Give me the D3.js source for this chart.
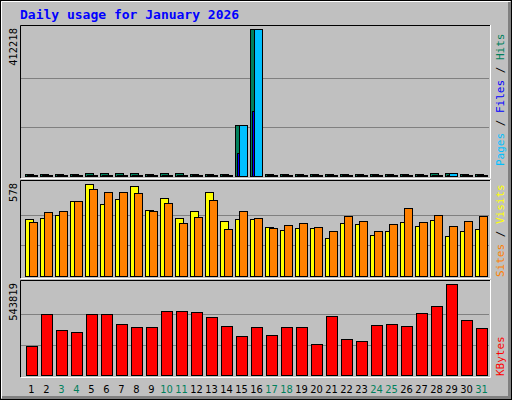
<!DOCTYPE html>
<html><head><meta charset="utf-8">
<script src="https://cdn.jsdelivr.net/npm/d3@7"></script>
<style>body{margin:0}svg{display:block}</style>
</head><body>
<script>
// daily values, January 2026
var days = d3.range(1, 32);
var weekend = [3, 4, 10, 11, 17, 18, 24, 25, 31];
var hits = [5000,5000,5000,5000,8000,8000,8000,8000,5000,8000,8000,5000,5000,5000,143000,412218,5000,5000,5000,5000,5000,5000,5000,5000,5000,5000,5000,8000,8000,5000,5000];
var files = [2500,2500,2500,2500,3500,3500,3500,3500,2500,3500,3500,2500,2500,2500,64500,182000,2500,2500,2500,2500,2500,2500,2500,2500,2500,2500,2500,3500,4000,2500,2500];
var pages = [4000,4000,4000,4000,4000,4000,4000,4000,4000,4000,4000,4000,4000,4000,143000,412218,4000,4000,4000,4000,4000,4000,4000,4000,4000,4000,4000,4000,8000,4000,4000];
var visits = [359,365,384,472,578,453,484,565,415,490,365,409,528,346,359,359,309,290,303,303,240,334,327,259,284,340,315,353,252,284,296];
var sites = [340,403,409,472,547,528,528,522,409,459,334,371,478,296,409,365,303,321,334,309,284,378,346,284,327,428,340,384,315,346,378];
var kbytes = [174700,365200,270000,258000,365000,365000,305600,287800,287800,383000,383000,377000,347000,293700,234000,287800,240000,287800,287800,186600,353000,216000,204000,300000,305600,293700,371000,413000,543819,329500,281800];

var svg = d3.select("body").append("svg").attr("width", 512).attr("height", 400);
var mono = "DejaVu Sans Mono";

svg.append("rect").attr("width", 512).attr("height", 400).attr("fill", "#c0c0c0");
svg.append("rect").attr("x", 0.5).attr("y", 0.5).attr("width", 511).attr("height", 399).attr("fill", "none").attr("stroke", "#000");
svg.append("path").attr("d", "M1.5,398V1.5H510").attr("stroke", "#fff").attr("fill", "none");
svg.append("path").attr("d", "M2,397.5H509.5V2").attr("stroke", "#808080").attr("stroke-width", 3).attr("fill", "none");

svg.append("text").attr("x", 20).attr("y", 19).text("Daily usage for January 2026")
  .attr("font-family", mono).attr("font-weight", "bold").attr("font-size", 13).attr("fill", "#0000ff");

var x = d3.scaleLinear().domain([1, 31]).range([25, 475]);

var panels = [
  {top: 25, bottom: 178, y: d3.scaleLinear().domain([0, 412218]).range([176, 29]), max: "412218"},
  {top: 180, bottom: 278, y: d3.scaleLinear().domain([0, 578]).range([276, 184]), max: "578"},
  {top: 280, bottom: 377, y: d3.scaleLinear().domain([0, 543819]).range([375, 284]), max: "543819"}
];

panels.forEach(function(p) {
  var base = p.y(0), span = base - p.y.range()[1];
  [1, 2].forEach(function(k) {
    svg.append("line").attr("x1", 21).attr("x2", 489).attr("y1", Math.round(base - span * k / 3) + 0.5)
      .attr("y2", Math.round(base - span * k / 3) + 0.5).attr("stroke", "#808080");
  });
  svg.append("path").attr("d", "M20.5," + p.bottom + "V" + (p.top + 0.5) + "H490").attr("stroke", "#000").attr("fill", "none");
  svg.append("path").attr("d", "M21," + (p.bottom + 0.5) + "H490.5V" + p.top).attr("stroke", "#fff").attr("fill", "none");
  svg.append("text").attr("transform", "translate(17," + (p.top + 3) + ") rotate(-90)")
    .attr("text-anchor", "end").attr("font-family", "DejaVu Sans Condensed").attr("font-size", 11).attr("fill", "#000").text(p.max);
});

function bars(data, p, dx, w, color) {
  svg.append("g").selectAll("rect").data(data).join("rect")
    .attr("x", function(d, i) { return x(days[i]) + dx + 0.5; })
    .attr("y", function(d) { return Math.round(p.y(d)) + 0.5; })
    .attr("width", w)
    .attr("height", function(d) { return Math.max(1, Math.round(p.y(0) - p.y(d))); })
    .attr("fill", color).attr("stroke", "#000");
}
bars(hits, panels[0], 0, 8, "#00805c");
bars(files, panels[0], 2, 8, "#0000ff");
bars(pages, panels[0], 4, 8, "#00c0ff");
bars(visits, panels[1], 0, 8, "#ffff00");
bars(sites, panels[1], 4, 8, "#ff8000");
bars(kbytes, panels[2], 1, 11, "#ff0000");

svg.append("g").selectAll("text").data(days).join("text")
  .attr("x", function(d) { return x(d) + 6.5; }).attr("y", 393)
  .attr("text-anchor", "middle").attr("font-family", "DejaVu Sans Condensed").attr("font-size", 11)
  .attr("fill", function(d) { return weekend.indexOf(d) >= 0 ? "#00805c" : "#000"; })
  .text(function(d) { return d; });

function sideLabel(y0, parts) {
  var t = svg.append("text").attr("transform", "translate(504," + y0 + ") rotate(-90)")
    .attr("font-family", mono).attr("font-size", 11);
  parts.forEach(function(s) { t.append("tspan").attr("fill", s[1]).text(s[0]); });
}
sideLabel(166, [["Pages", "#00c0ff"], [" / ", "#000"], ["Files", "#0000ff"], [" / ", "#000"], ["Hits", "#00805c"]]);
sideLabel(277, [["Sites", "#ff8000"], [" / ", "#000"], ["Visits", "#ffff00"]]);
sideLabel(376, [["KBytes", "#ff0000"]]);
</script>
</body></html>
